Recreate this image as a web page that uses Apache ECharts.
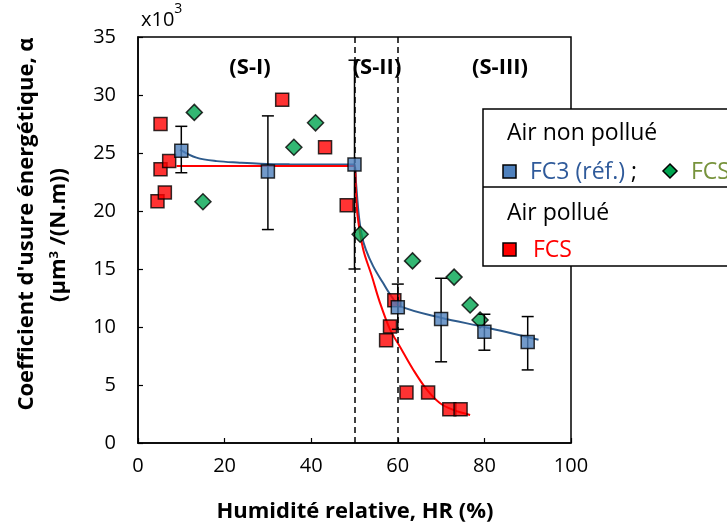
<!DOCTYPE html>
<html><head><meta charset="utf-8">
<script src="https://cdn.jsdelivr.net/npm/echarts@6/dist/echarts.min.js"></script>
<style>html,body{margin:0;padding:0;background:#fff}#c{width:727px;height:529px}</style>
</head><body><div id="c"></div>
<script>
// ---- data (in units of 10^3) ----
const xTicks = [0, 20, 40, 60, 80, 100];
const yTicks = [0, 5, 10, 15, 20, 25, 30, 35];
const fc3X = [10, 30, 50, 60, 70, 80, 90];
const fc3Y = [25.2, 23.4, 24.0, 11.7, 10.7, 9.6, 8.7];
const fc3Lo = [23.3, 18.4, 15.0, 9.8, 7.0, 8.0, 6.3];
const fc3Hi = [27.3, 28.2, 33.0, 13.7, 14.2, 11.1, 10.9];
const fcsCleanX = [13, 15, 36, 41, 51.3, 63.4, 73, 76.7, 79];
const fcsCleanY = [28.5, 20.8, 25.5, 27.6, 18.0, 15.7, 14.3, 11.9, 10.6];
const fcsPollX = [4.5, 5.2, 5.2, 6.2, 7.2, 33.3, 43.2, 48.2, 57.3, 58.2, 59.2, 62, 67, 71.9, 74.5];
const fcsPollY = [20.85, 27.5, 23.6, 21.6, 24.3, 29.6, 25.5, 20.5, 8.85, 10.05, 12.3, 4.35, 4.35, 2.9, 2.9];
const fitBlueX = [9.7, 13.5, 18.2, 23.5, 28.2, 35, 42, 50, 50.35, 51.0, 51.7, 52.6, 54.3, 56.5, 58.6, 60.5, 70, 80, 92.5];
const fitBlueY = [25.3, 24.6, 24.3, 24.17, 24.08, 24.02, 24.0, 24.0, 22.45, 19.6, 17.85, 16.7, 15.25, 13.85, 12.6, 11.8, 10.8, 10.0, 8.9];
const fitRedX = [8.9, 20, 30, 40, 50, 50.3, 50.7, 52.0, 54.0, 55.7, 58.2, 60.5, 63.6, 66.7, 69.7, 72.8, 76.7];
const fitRedY = [23.88, 23.88, 23.88, 23.88, 23.88, 22.0, 19.6, 16.7, 14.4, 12.3, 9.8, 8.3, 6.3, 4.6, 3.45, 2.85, 2.42];
const zoneLines = [50, 60];
const zoneLabels = ['(S-I)', '(S-II)', '(S-III)'];

const zip = (a, b) => a.map((v, i) => [v, b[i]]);
const FONT = '"Open Sans"';
const chart = echarts.init(document.getElementById('c'));

const errData = fc3X.map((x, i) => [x, fc3Lo[i], fc3Hi[i]]);

chart.setOption({
  animation: false,
  textStyle: { fontFamily: 'Open Sans' },
  grid: { left: 138, right: 156, top: 37, bottom: 86, show: true, borderColor: '#000', borderWidth: 1.5, backgroundColor: 'transparent' },
  xAxis: {
    type: 'value', min: xTicks[0], max: xTicks[xTicks.length - 1], interval: 20,
    axisLine: { show: true, lineStyle: { color: '#000', width: 1.5 } },
    axisTick: { show: true, inside: true, length: 5, lineStyle: { color: '#000', width: 1.2 } },
    axisLabel: { color: '#000', fontSize: 20, fontFamily: 'Open Sans', margin: 13 },
    splitLine: { show: false }
  },
  yAxis: {
    type: 'value', min: yTicks[0], max: yTicks[yTicks.length - 1], interval: 5,
    axisLine: { show: true, lineStyle: { color: '#000', width: 1.5 } },
    axisTick: { show: true, inside: true, length: 5, lineStyle: { color: '#000', width: 1.2 } },
    axisLabel: { color: '#000', fontSize: 20, fontFamily: 'Open Sans', margin: 22 },
    splitLine: { show: false }
  },
  series: [
    {
      name: 'fitBlue', type: 'line', data: zip(fitBlueX, fitBlueY), showSymbol: false, symbol: 'none',
      smooth: 0.35, lineStyle: { color: '#2E5B8C', width: 2 }, z: 2,
      markLine: {
        silent: true, symbol: 'none', label: { show: false },
        lineStyle: { color: '#000', type: [6, 4], width: 1.5 },
        data: zoneLines.map(v => ({ xAxis: v }))
      }
    },
    {
      name: 'fitRed', type: 'line', data: zip(fitRedX, fitRedY), showSymbol: false, symbol: 'none',
      smooth: 0.35, lineStyle: { color: '#FF0000', width: 2 }, z: 2
    },
    {
      name: 'FCS clean', type: 'scatter', data: zip(fcsCleanX, fcsCleanY), symbol: 'diamond', symbolSize: 16,
      itemStyle: { color: '#00A550', borderColor: '#000', borderWidth: 1.5 }, z: 3
    },
    {
      name: 'FCS pollué', type: 'scatter', data: zip(fcsPollX, fcsPollY), symbol: 'rect', symbolSize: 13,
      itemStyle: { color: '#FF0000', borderColor: '#000', borderWidth: 1.5 }, z: 4
    },
    {
      name: 'err', type: 'custom', data: errData, z: 5,
      renderItem: function (params, api) {
        const x = api.value(0);
        const pLo = api.coord([x, api.value(1)]);
        const pHi = api.coord([x, api.value(2)]);
        const w = 6;
        const st = { stroke: '#000', lineWidth: 1.5 };
        return { type: 'group', children: [
          { type: 'line', shape: { x1: pLo[0], y1: pLo[1], x2: pHi[0], y2: pHi[1] }, style: st },
          { type: 'line', shape: { x1: pLo[0] - w, y1: pLo[1], x2: pLo[0] + w, y2: pLo[1] }, style: st },
          { type: 'line', shape: { x1: pHi[0] - w, y1: pHi[1], x2: pHi[0] + w, y2: pHi[1] }, style: st }
        ] };
      }
    },
    {
      name: 'FC3', type: 'scatter', data: zip(fc3X, fc3Y), symbol: 'rect', symbolSize: 13,
      itemStyle: { color: '#4F81BD', borderColor: '#000', borderWidth: 1.5 }, z: 6
    }
  ],
  graphic: [
    { type: 'text', left: 141, top: 2, style: { text: '{a|x10}{s|3}', rich: { a: { fontSize: 20, fontFamily: 'Open Sans', fill: '#000', padding: [8, 0, 0, 0] }, s: { fontSize: 14, fontFamily: 'Open Sans', fill: '#000', verticalAlign: 'top' } } } },
    { type: 'text', x: 250, y: 68, style: { text: zoneLabels[0], font: 'bold 22px ' + FONT, fill: '#000', align: 'center', verticalAlign: 'middle' } },
    { type: 'text', x: 377, y: 68, style: { text: zoneLabels[1], font: 'bold 22px ' + FONT, fill: '#000', align: 'center', verticalAlign: 'middle' } },
    { type: 'text', x: 500, y: 68, style: { text: zoneLabels[2], font: 'bold 22px ' + FONT, fill: '#000', align: 'center', verticalAlign: 'middle' } },
    // axis titles
    { type: 'text', x: 355, y: 512, style: { text: 'Humidité relative, HR (%)', font: 'bold 22px ' + FONT, fill: '#000', align: 'center', verticalAlign: 'middle' } },
    { type: 'text', x: 27, y: 224, rotation: Math.PI / 2, style: { text: "Coefficient d'usure énergétique, α", font: 'bold 22px ' + FONT, fill: '#000', align: 'center', verticalAlign: 'middle' } },
    { type: 'text', x: 59, y: 235, rotation: Math.PI / 2, style: { text: '{a|(µm}{s|3}{a| /(N.m))}', rich: { a: { font: 'bold 22px ' + FONT, fill: '#000' }, s: { font: 'bold 13px ' + FONT, fill: '#000', verticalAlign: 'top', padding: [0, 0, 9, 0] } }, align: 'center', verticalAlign: 'middle' } },
    // legend box
    { type: 'rect', shape: { x: 483, y: 109, width: 260, height: 157 }, style: { fill: '#fff', stroke: '#000', lineWidth: 1.5 }, z: 100 },
    { type: 'line', shape: { x1: 483, y1: 187, x2: 727, y2: 187 }, style: { stroke: '#000', lineWidth: 1.5 }, z: 101 },
    { type: 'text', x: 507, y: 133, style: { text: 'Air non pollué', font: '23px ' + FONT, fill: '#000', verticalAlign: 'middle' }, z: 101 },
    { type: 'rect', shape: { x: 503, y: 165, width: 13, height: 13 }, style: { fill: '#4F81BD', stroke: '#000', lineWidth: 1.5 }, z: 101 },
    { type: 'text', x: 530, y: 172, style: { text: '{b|FC3 (réf.)}{k| ;}', rich: { b: { font: '23px ' + FONT, fill: '#2F5A9A' }, k: { font: '23px ' + FONT, fill: '#000' } }, verticalAlign: 'middle' }, z: 101 },
    { type: 'polygon', shape: { points: [[670, 164], [677, 171], [670, 178], [663, 171]] }, style: { fill: '#00A550', stroke: '#000', lineWidth: 1.5 }, z: 101 },
    { type: 'text', x: 691, y: 172, style: { text: 'FCS', font: '23px ' + FONT, fill: '#77933C', verticalAlign: 'middle' }, z: 101 },
    { type: 'text', x: 507, y: 213, style: { text: 'Air pollué', font: '23px ' + FONT, fill: '#000', verticalAlign: 'middle' }, z: 101 },
    { type: 'rect', shape: { x: 503, y: 243, width: 13, height: 13 }, style: { fill: '#FF0000', stroke: '#000', lineWidth: 1.5 }, z: 101 },
    { type: 'text', x: 533, y: 250, style: { text: 'FCS', font: '23px ' + FONT, fill: '#FF0000', verticalAlign: 'middle' }, z: 101 }
  ]
});
</script></body></html>
